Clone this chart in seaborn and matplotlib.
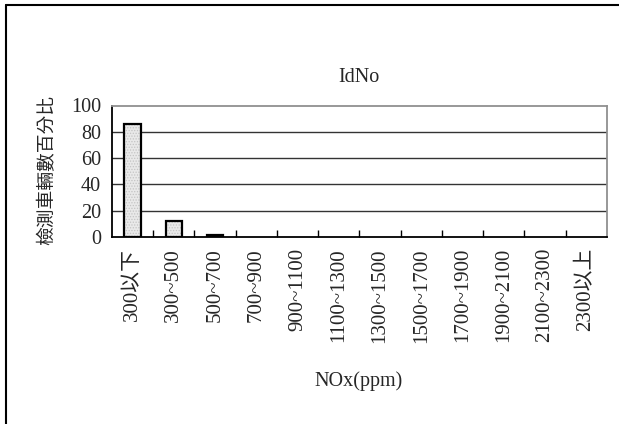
import matplotlib
matplotlib.use("Agg")
import matplotlib.pyplot as plt
import seaborn as sns
import pandas as pd
from matplotlib.lines import Line2D

# NOx concentration bins and share of inspected vehicles (%)
categories = ["300以下", "300~500", "500~700", "700~900", "900~1100", "1100~1300",
              "1300~1500", "1500~1700", "1700~1900", "1900~2100", "2100~2300", "2300以上"]
percent = [86, 12.5, 1.5, 0, 0, 0, 0, 0, 0, 0, 0, 0]
y_ticks = [0, 20, 40, 60, 80, 100]

title = "IdNo"
x_label = "NOx(ppm)"
y_label = "檢測車輛數百分比"

sns.set_theme(style="white")
plt.rcParams["font.family"] = ["Liberation Serif", "Noto Sans CJK TC"]
plt.rcParams["hatch.linewidth"] = 0.6

df = pd.DataFrame({"bin": categories, "pct": percent})

fig = plt.figure(figsize=(6.19, 4.24), dpi=100)
W, H = 619, 424
left, right, top, bottom = 112, 607, 105.5, 237
ax = fig.add_axes([left / W, 1 - bottom / H, (right - left) / W, (bottom - top) / H])

sns.barplot(data=df, x="bin", y="pct", ax=ax, width=0.4,
            color="#e9e9e9", edgecolor="#c4c4c4", linewidth=0, hatch="......",
            saturation=1, zorder=3)
# black outline drawn over the dotted fill
for p in list(ax.patches):
    if p.get_height() > 0:
        ax.add_patch(plt.Rectangle(p.get_xy(), p.get_width(), p.get_height(),
                                   facecolor="none", edgecolor="black", linewidth=1.6, zorder=4))

ax.set_ylim(0, 100)
ax.set_xlim(-0.5, len(categories) - 0.5)
ax.set_yticks(y_ticks)
ax.set_yticklabels([str(v) for v in y_ticks], fontsize=14.5)
ax.set_xticks([i + 0.5 for i in range(len(categories) - 1)], minor=False)
ax.set_xticklabels([])
ax.set_xticks(range(len(categories)), minor=True)
ax.set_xticklabels(categories, minor=True, rotation=90, fontsize=15)
ax.tick_params(axis="x", which="major", direction="in", length=5, width=1, color="black", bottom=True)
ax.tick_params(axis="x", which="minor", length=0, pad=8)
ax.tick_params(axis="y", direction="in", length=0, pad=8)

for v in y_ticks[1:-1]:
    ax.axhline(v, color="#333333", linewidth=1, zorder=1)

for side in ["left", "bottom"]:
    ax.spines[side].set_color("black")
    ax.spines[side].set_linewidth(1.3)
for side in ["top", "right"]:
    ax.spines[side].set_color("#909090")
    ax.spines[side].set_linewidth(1.3)
ax.spines["bottom"].set_zorder(5)

ax.set_xlabel("")
ax.set_ylabel("")
fig.text(359 / W, 1 - 78 / H, title, ha="center", va="center", fontsize=14.5)
fig.text(359 / W, 1 - 381 / H, x_label, ha="center", va="center", fontsize=14.5)
fig.text(47 / W, 1 - 170 / H, y_label, ha="center", va="center", rotation=90,
         fontsize=13.5, family=["Noto Sans CJK TC", "Liberation Serif"])

# frame lines along the top and left edges
fig.add_artist(Line2D([6 / W, 1], [1 - 5 / H, 1 - 5 / H], color="black", linewidth=1.5))
fig.add_artist(Line2D([6 / W, 6 / W], [0, 1 - 5 / H], color="black", linewidth=1.5))

fig.savefig("out.png", dpi=100, facecolor="white")
